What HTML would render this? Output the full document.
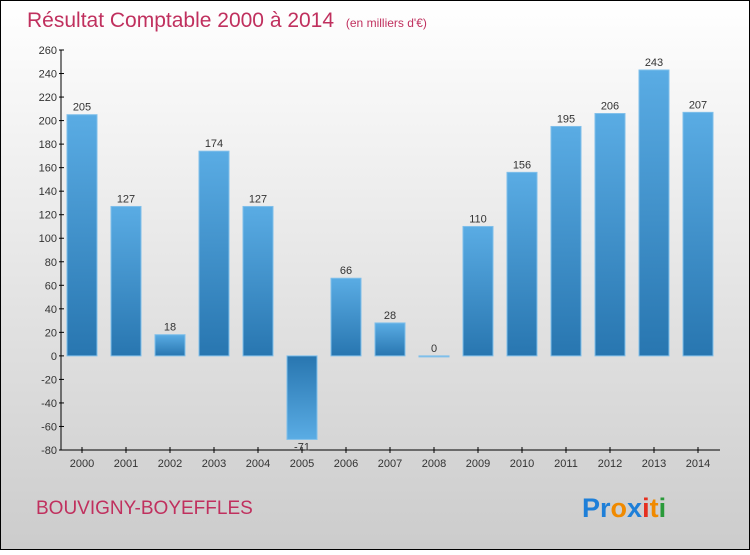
<!DOCTYPE html>
<html><head><meta charset="utf-8"><style>
html,body{margin:0;padding:0}
body{width:750px;height:550px;overflow:hidden;font-family:"Liberation Sans",sans-serif}
</style></head><body>
<svg width="750" height="550" xmlns="http://www.w3.org/2000/svg">
<defs>
<linearGradient id="bg" x1="0" y1="0" x2="0" y2="1"><stop offset="0" stop-color="#ffffff"/><stop offset="1" stop-color="#cccccc"/></linearGradient>
<linearGradient id="pos" x1="0" y1="0" x2="0" y2="1"><stop offset="0" stop-color="#5aace4"/><stop offset="1" stop-color="#2876b0"/></linearGradient>
<linearGradient id="neg" x1="0" y1="0" x2="0" y2="1"><stop offset="0" stop-color="#2876b0"/><stop offset="1" stop-color="#5aace4"/></linearGradient>
</defs>
<rect x="0.5" y="0.5" width="749" height="549" fill="url(#bg)" stroke="#000"/>
<text x="27" y="27" font-size="21" fill="#c0305e">Résultat Comptable 2000 à 2014 <tspan font-size="12" dx="6">(en milliers d'€)</tspan></text>
<g id="yaxis"></g>
<g id="xaxis"></g>
<g id="bars"></g>
<text x="36" y="514" font-size="19" fill="#c0305e">BOUVIGNY-BOYEFFLES</text>
<text x="582" y="517" font-size="27" font-weight="bold"><tspan fill="#1e7fd8">Pr</tspan><tspan fill="#f08a00">o</tspan><tspan fill="#1e7fd8">x</tspan><tspan fill="#e53020">i</tspan><tspan fill="#f08a00">t</tspan><tspan fill="#2a9a3a">i</tspan></text>
</svg>
<script>
const years=["2000","2001","2002","2003","2004","2005","2006","2007","2008","2009","2010","2011","2012","2013","2014"];
const values=[205,127,18,174,127,-71,66,28,0,110,156,195,206,243,207];
const yTicks=[260,240,220,200,180,160,140,120,100,80,60,40,20,0,-20,-40,-60,-80];
const NS="http://www.w3.org/2000/svg";
const yMin=-80,yMax=260,plotTop=50,plotBot=450;
function yS(v){return plotBot-(v-yMin)/(yMax-yMin)*(plotBot-plotTop);}
function xS(i){return 82+i*44;}
function mk(t,a,p){const e=document.createElementNS(NS,t);for(const k in a)e.setAttribute(k,a[k]);p.appendChild(e);return e;}
const ya=document.getElementById('yaxis'),xa=document.getElementById('xaxis'),bs=document.getElementById('bars');
mk('line',{x1:61,y1:plotTop,x2:61,y2:plotBot,stroke:'#000'},ya);
mk('line',{x1:61,y1:plotBot,x2:720,y2:plotBot,stroke:'#000'},xa);
yTicks.forEach(v=>{
 mk('line',{x1:59,y1:yS(v),x2:64,y2:yS(v),stroke:'#000'},ya);
 const t=mk('text',{x:57,y:yS(v)+4,'text-anchor':'end','font-size':11,fill:'#333'},ya);
 
 
 t.textContent=v;
});
years.forEach((yr,i)=>{
 mk('line',{x1:xS(i),y1:plotBot-3,x2:xS(i),y2:plotBot+3,stroke:'#000'},xa);
 const t=mk('text',{x:xS(i),y:plotBot+17,'text-anchor':'middle','font-size':11,fill:'#333'},xa);
 
 
 t.textContent=yr;
 const v=values[i];
 const y0=yS(0),y1=yS(v);
 const r=mk('rect',{x:xS(i)-15,y:Math.min(y0,y1),width:30,height:Math.max(1,Math.abs(y1-y0)),fill:v>=0?'url(#pos)':'url(#neg)',stroke:'#7fbfea','stroke-width':1},bs);
 
 
 const l=mk('text',{x:xS(i),y:v>=0?y1-4:y1+11,'text-anchor':'middle','font-size':11,fill:'#333'},bs);
 
 
 l.textContent=v;
});
</script>
</body></html>
